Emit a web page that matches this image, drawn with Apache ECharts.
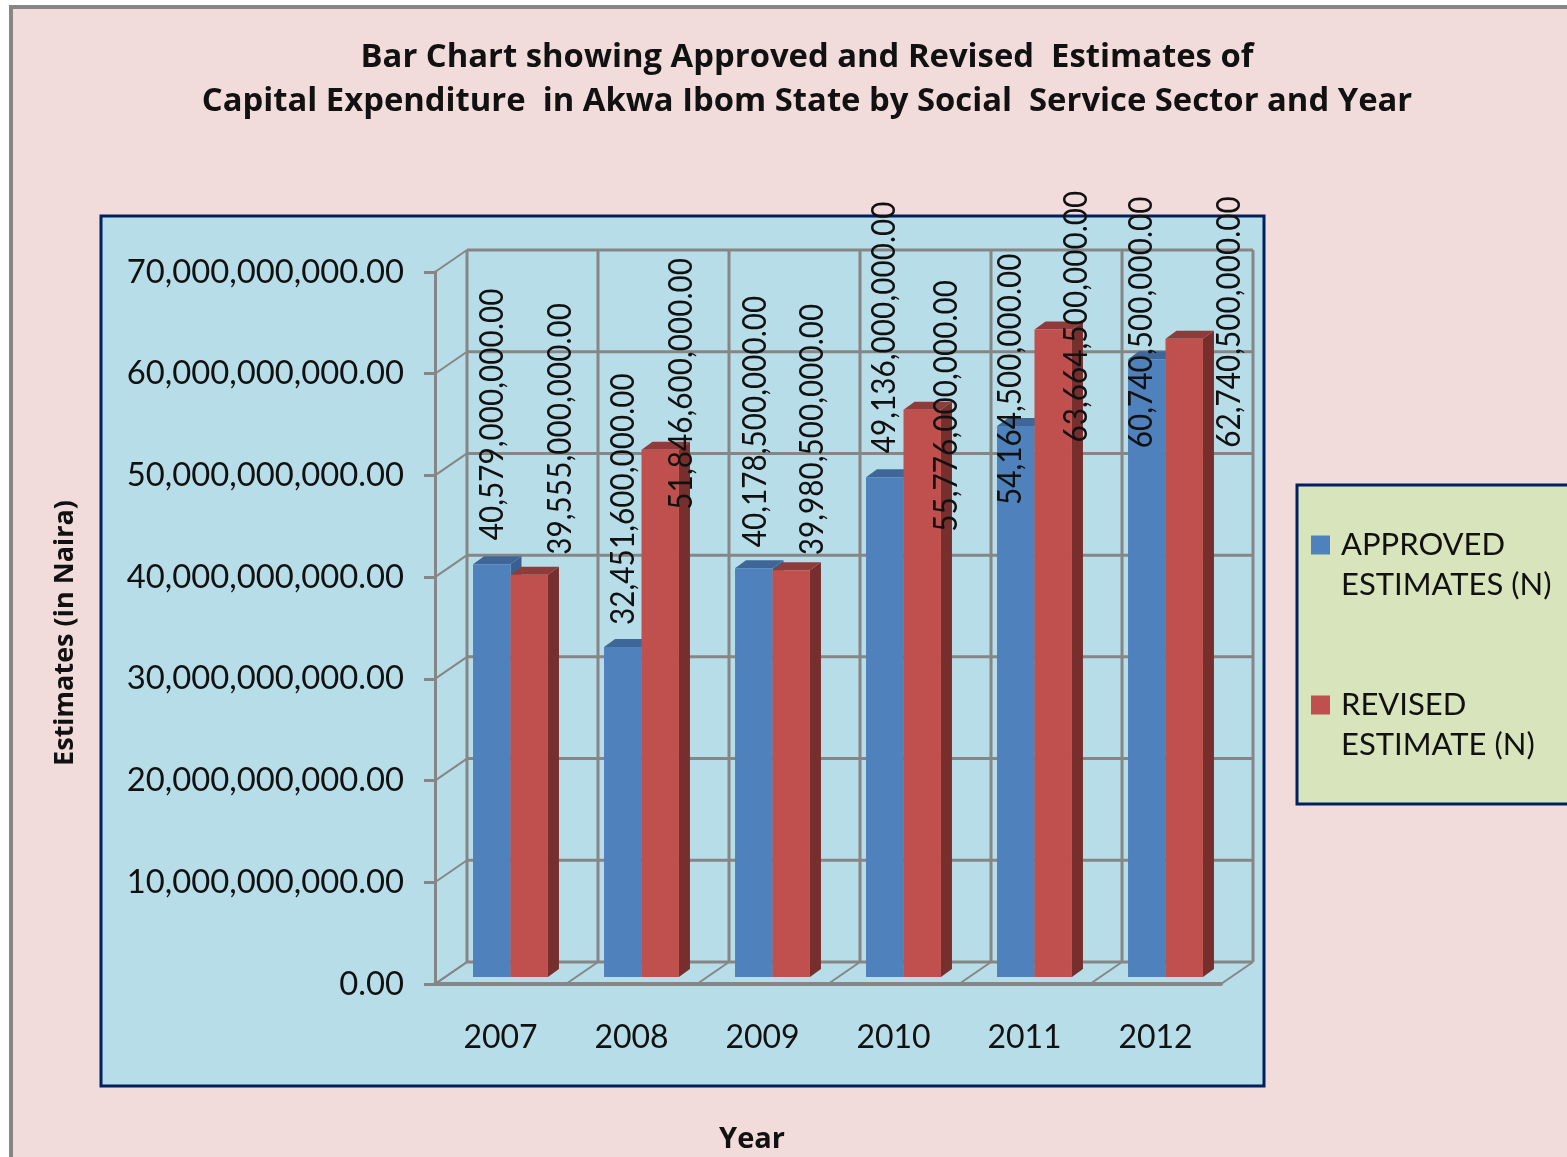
<!DOCTYPE html>
<html>
<head>
<meta charset="utf-8">
<title>Approved and Revised Estimates</title>
<script src="https://cdn.jsdelivr.net/npm/echarts@6/dist/echarts.min.js"></script>
<style>
  html, body { margin: 0; padding: 0; background: #fff; }
  #chart { width: 1567px; height: 1157px; }
</style>
</head>
<body>
<div id="chart"></div>
<script>
const categories = ['2007', '2008', '2009', '2010', '2011', '2012']
const approvedEstimates = [40579000000, 32451600000, 40178500000, 49136000000, 54164500000, 60740500000]
const revisedEstimates = [39555000000, 51846600000, 39980500000, 55776000000, 63664500000, 62740500000]
const yTicks = [0, 10000000000, 20000000000, 30000000000, 40000000000, 50000000000, 60000000000, 70000000000]

// hand placed value labels, offset from the value point on the front axis
const approvedLabelDx = [-8, -8, -7, -9, -14, -14]
const approvedLabelDy = [-31, -29, -28, -31, 72, 82]
const revisedLabelDx = [60, 50, 50, 53, 52, 74]
const revisedLabelDy = [-27, 53, -22, 115, 106, 102]

const FONT = 'Lato, "Noto Sans", sans-serif'
const BOLD_FONT = '"Open Sans", "Noto Sans", sans-serif'
const GRID_COLOR = '#868686'
const DEPTH_X = 32
const DEPTH_Y = 22

const money = (v) => Number(v).toLocaleString('en-US', { minimumFractionDigits: 2, maximumFractionDigits: 2 })

const line = (x1, y1, x2, y2, width) => ({
  type: 'line',
  shape: { x1, y1, x2, y2 },
  style: { stroke: GRID_COLOR, lineWidth: width }
})

// floor lines and back wall verticals
const renderVerticals = (params, api) => {
  const i = api.value(0)
  const band = api.size([1, 0])[0]
  const base = api.coord([i, 0])
  const top = api.coord([i, 70000000000])
  const edges = [base[0] - band / 2]
  if (i === categories.length - 1) edges.push(base[0] + band / 2)
  const children = []
  edges.forEach((x) => {
    children.push(line(x, base[1], x + DEPTH_X, base[1] - DEPTH_Y, 2))
    children.push(line(x + DEPTH_X, base[1] - DEPTH_Y, x + DEPTH_X, top[1] - DEPTH_Y, 3))
  })
  return { type: 'group', children }
}

// side wall diagonals and back wall horizontals
const renderHorizontals = (params, api) => {
  const band = api.size([1, 0])[0]
  const p = api.coord([0, api.value(1)])
  const x = p[0] - band / 2
  const backX = x + DEPTH_X
  const backY = p[1] - DEPTH_Y
  return {
    type: 'group',
    children: [
      line(x, p[1], backX, backY, 2),
      line(backX, backY, backX + band * categories.length, backY, 3)
    ]
  }
}

const renderBar = (slot, front, top, side) => (params, api) => {
  const band = api.size([1, 0])[0]
  const p = api.coord([api.value(0), api.value(1)])
  const zero = api.coord([api.value(0), 0])
  const w = band * 0.286
  const x0 = p[0] + 10 + (slot - 1) * w
  const x1 = x0 + w
  const y0 = p[1] - 7
  const y1 = zero[1] - 7
  const dx = 11
  const dy = 8
  return {
    type: 'group',
    children: [
      { type: 'polygon', shape: { points: [[x1, y0], [x1 + dx, y0 - dy], [x1 + dx, y1 - dy], [x1, y1]] }, style: { fill: side } },
      { type: 'polygon', shape: { points: [[x0, y0], [x0 + dx, y0 - dy], [x1 + dx, y0 - dy], [x1, y0]] }, style: { fill: top } },
      { type: 'rect', shape: { x: x0, y: y0, width: w, height: y1 - y0 }, style: { fill: front } }
    ]
  }
}

const renderLabel = (params, api) => {
  const p = api.coord([api.value(0), api.value(1)])
  return {
    type: 'text',
    x: p[0] + api.value(2),
    y: p[1] + api.value(3),
    rotation: Math.PI / 2,
    scaleX: 0.93,
    style: {
      text: money(api.value(1)),
      fontFamily: FONT,
      fontSize: 32,
      fill: '#111',
      align: 'left',
      verticalAlign: 'middle'
    }
  }
}

// square sits at the top of the icon box so it lines up with the first text line
const LEGEND_ICON = 'path://M0 0H19V19H0ZM0 59L19 59Z'

const chart = echarts.init(document.getElementById('chart'))

chart.setOption({
  animation: false,
  backgroundColor: '#fff',
  title: {
    text: 'Bar Chart showing Approved and Revised  Estimates of\nCapital Expenditure  in Akwa Ibom State by Social  Service Sector and Year',
    left: 802,
    top: 31,
    textAlign: 'center',
    textStyle: { fontFamily: BOLD_FONT, fontSize: 32.8, fontWeight: 'bold', color: '#111', lineHeight: 44 }
  },
  graphic: {
    elements: [
      { type: 'rect', z: -10, shape: { x: 11, y: 7, width: 1600, height: 1200 }, style: { fill: '#f2dcdb', stroke: GRID_COLOR, lineWidth: 4 } },
      { type: 'rect', z: -9, shape: { x: 101, y: 216, width: 1163, height: 870 }, style: { fill: '#b7dde8', stroke: '#002060', lineWidth: 3 } },
      { type: 'rect', z: -9, shape: { x: 1297, y: 485, width: 300, height: 319 }, style: { fill: '#d8e4bc', stroke: '#002060', lineWidth: 3 } }
    ]
  },
  legend: {
    orient: 'vertical',
    left: 1311,
    top: 525,
    padding: 0,
    itemWidth: 19,
    itemHeight: 59,
    itemGap: 80,
    selectedMode: false,
    data: [
      { name: 'APPROVED\nESTIMATES (N)', icon: LEGEND_ICON },
      { name: 'REVISED\nESTIMATE (N)', icon: LEGEND_ICON }
    ],
    textStyle: { fontFamily: FONT, fontSize: 31, color: '#111', lineHeight: 40, padding: [0, 0, 0, 6] }
  },
  grid: { left: 435, top: 272, width: 786, height: 712, outerBoundsMode: 'none' },
  xAxis: {
    type: 'category',
    data: categories,
    name: 'Year',
    nameLocation: 'middle',
    nameGap: 141,
    nameTextStyle: { fontFamily: BOLD_FONT, fontSize: 29, fontWeight: 'bold', color: '#111', padding: [0, 152, 0, 0] },
    axisLine: { lineStyle: { color: GRID_COLOR, width: 4 } },
    axisTick: { show: false },
    axisLabel: { fontFamily: FONT, fontSize: 32, color: '#111', margin: 38 },
    splitLine: { show: false }
  },
  yAxis: {
    type: 'value',
    min: 0,
    max: 70000000000,
    interval: 10000000000,
    name: 'Estimates (in Naira)',
    nameLocation: 'middle',
    nameGap: 356,
    nameTextStyle: { fontFamily: BOLD_FONT, fontSize: 27, fontWeight: 'bold', color: '#111', padding: [0, 10, 0, 0] },
    axisLine: { show: true, lineStyle: { color: GRID_COLOR, width: 3 } },
    axisTick: { show: true, length: 11, lineStyle: { color: GRID_COLOR, width: 3 } },
    axisLabel: { fontFamily: FONT, fontSize: 32.8, color: '#111', margin: 31, padding: [5, 0, 0, 0], formatter: money },
    splitLine: { show: false }
  },
  series: [
    {
      type: 'custom',
      name: 'wall verticals',
      z: 1,
      silent: true,
      renderItem: renderVerticals,
      data: categories.map((c, i) => [i, 0])
    },
    {
      type: 'custom',
      name: 'wall horizontals',
      z: 1,
      silent: true,
      renderItem: renderHorizontals,
      data: yTicks.map((v) => [0, v])
    },
    {
      type: 'custom',
      name: 'APPROVED\nESTIMATES (N)',
      z: 2,
      itemStyle: { color: '#4f81bd' },
      renderItem: renderBar(0, '#4f81bd', '#3e6797', '#3a6090'),
      data: approvedEstimates.map((v, i) => [i, v])
    },
    {
      type: 'custom',
      name: 'REVISED\nESTIMATE (N)',
      z: 3,
      itemStyle: { color: '#c0504d' },
      renderItem: renderBar(1, '#c0504d', '#8f3b39', '#772f2e'),
      data: revisedEstimates.map((v, i) => [i, v])
    },
    {
      type: 'custom',
      name: 'approved labels',
      z: 5,
      silent: true,
      renderItem: renderLabel,
      data: approvedEstimates.map((v, i) => [i, v, approvedLabelDx[i], approvedLabelDy[i]])
    },
    {
      type: 'custom',
      name: 'revised labels',
      z: 5,
      silent: true,
      renderItem: renderLabel,
      data: revisedEstimates.map((v, i) => [i, v, revisedLabelDx[i], revisedLabelDy[i]])
    }
  ]
})
</script>
</body>
</html>
